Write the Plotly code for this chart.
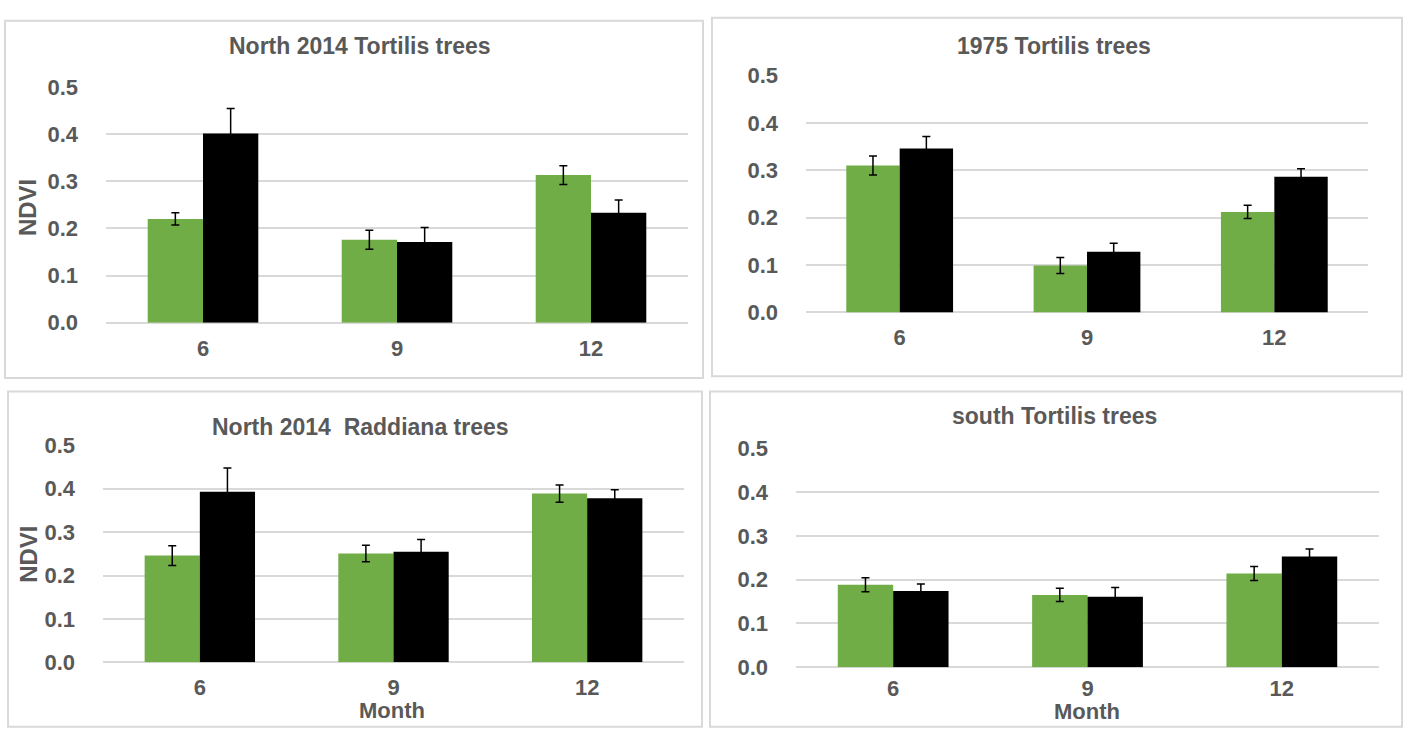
import plotly.graph_objects as go

# Month categories shared by all four panels
months = ["6", "9", "12"]

# Mean NDVI and standard error per panel: green series, black series
north_tortilis_green = [0.220, 0.176, 0.313]
north_tortilis_green_err = [0.013, 0.020, 0.020]
north_tortilis_black = [0.401, 0.171, 0.233]
north_tortilis_black_err = [0.053, 0.031, 0.027]

y1975_tortilis_green = [0.310, 0.099, 0.212]
y1975_tortilis_green_err = [0.020, 0.017, 0.014]
y1975_tortilis_black = [0.346, 0.128, 0.286]
y1975_tortilis_black_err = [0.025, 0.018, 0.017]

north_raddiana_green = [0.246, 0.251, 0.389]
north_raddiana_green_err = [0.023, 0.019, 0.020]
north_raddiana_black = [0.393, 0.255, 0.378]
north_raddiana_black_err = [0.055, 0.028, 0.020]

south_tortilis_green = [0.188, 0.165, 0.214]
south_tortilis_green_err = [0.016, 0.015, 0.016]
south_tortilis_black = [0.174, 0.161, 0.253]
south_tortilis_black_err = [0.016, 0.021, 0.017]

y_ticks = [0.0, 0.1, 0.2, 0.3, 0.4, 0.5]
y_tick_text = ["0.0", "0.1", "0.2", "0.3", "0.4", "0.5"]

titles = ["North 2014 Tortilis trees", "1975 Tortilis trees",
          "North 2014  Raddiana trees", "south Tortilis trees"]

W, H = 1407, 733
GREEN = "#70ad47"
TEXT = "#595959"
GRID = "#d9d9d9"
FONT = "Liberation Sans, Arial, sans-serif"


def px(x):
    return x / W


def py(y):
    return 1 - y / H


# Panel geometry in pixels: plot area (x0, x1, y_top, y_bottom), frame, title centre,
# gap between the axis line and the month labels
panels = [
    dict(plot=(106, 688, 77.5, 321.7), frame=(5, 703, 9, 379), title=(360, 35),
         ndvi=(27, 203), month=None, xstand=10,
         data=(north_tortilis_green, north_tortilis_green_err,
               north_tortilis_black, north_tortilis_black_err)),
    dict(plot=(806, 1368, 65.7, 311), frame=(712, 1402, 6, 377), title=(1054, 35),
         ndvi=None, month=None, xstand=10,
         data=(y1975_tortilis_green, y1975_tortilis_green_err,
               y1975_tortilis_black, y1975_tortilis_black_err)),
    dict(plot=(103, 684, 448.7, 673.3), frame=(8, 702, 393, 740), title=(360, 430),
         ndvi=(29, 562), month=(392, 723), xstand=10,
         data=(north_raddiana_green, north_raddiana_green_err,
               north_raddiana_black, north_raddiana_black_err)),
    dict(plot=(796, 1379, 451.7, 678.3), frame=(710, 1402, 393, 740), title=(1054, 418),
         ndvi=None, month=(1087, 724), xstand=6,
         data=(south_tortilis_green, south_tortilis_green_err,
               south_tortilis_black, south_tortilis_black_err)),
]

fig = go.Figure()
shapes = []
annotations = []

for i, p in enumerate(panels):
    n = "" if i == 0 else str(i + 1)
    g, ge, b, be = p["data"]
    for vals, errs, color, name in ((g, ge, GREEN, "Series 1"), (b, be, "#000000", "Series 2")):
        fig.add_trace(go.Bar(
            x=months, y=vals, name=name, marker_color=color,
            marker_line_width=0, showlegend=False,
            error_y=dict(type="data", array=errs, visible=True,
                         color="#000000", thickness=1.5, width=4),
            xaxis="x" + n, yaxis="y" + n,
        ))

    x0, x1, yt, yb = p["plot"]
    fig.layout["xaxis" + n] = dict(
        domain=[px(x0), px(x1)], anchor="y" + n, showgrid=False,
        showline=False, ticks="",
        tickfont=dict(family=FONT, size=22, color=TEXT, weight="bold"),
        ticklabelstandoff=p["xstand"], fixedrange=True,
    )
    fig.layout["yaxis" + n] = dict(
        domain=[py(yb), py(yt)], anchor="x" + n, range=[0, 0.5],
        tickvals=y_ticks, ticktext=y_tick_text, showgrid=True,
        gridcolor=GRID, gridwidth=2, zeroline=True, zerolinecolor=GRID,
        zerolinewidth=2, showline=False, ticks="",
        tickfont=dict(family=FONT, size=22, color=TEXT, weight="bold"),
        ticklabelstandoff=27, fixedrange=True,
    )

    fx0, fx1, fy0, fy1 = p["frame"]
    shapes.append(dict(type="rect", xref="paper", yref="paper",
                       x0=px(fx0), x1=px(fx1), y0=py(fy1), y1=py(fy0),
                       line=dict(color=GRID, width=2), layer="below"))

    tx, ty = p["title"]
    annotations.append(dict(text="<b>" + titles[i] + "</b>", x=px(tx), y=py(ty),
                            xref="paper", yref="paper", showarrow=False,
                            xanchor="center", yanchor="middle",
                            font=dict(family=FONT, size=23, color=TEXT)))
    if p["ndvi"]:
        nx, ny = p["ndvi"]
        annotations.append(dict(text="<b>NDVI</b>", x=px(nx), y=py(ny), xref="paper",
                                yref="paper", showarrow=False, textangle=-90,
                                xanchor="center", yanchor="middle",
                                font=dict(family=FONT, size=24, color=TEXT)))
    if p["month"]:
        mx, my = p["month"]
        annotations.append(dict(text="<b>Month</b>", x=px(mx), y=py(my), xref="paper",
                                yref="paper", showarrow=False,
                                xanchor="center", yanchor="middle",
                                font=dict(family=FONT, size=22, color=TEXT)))

fig.update_layout(
    width=W, height=H, margin=dict(l=0, r=0, t=0, b=0),
    paper_bgcolor="white", plot_bgcolor="white",
    barmode="group", bargap=0.43, bargroupgap=0,
    shapes=shapes, annotations=annotations,
    font=dict(family=FONT, color=TEXT),
)

fig.write_html("out.html")
